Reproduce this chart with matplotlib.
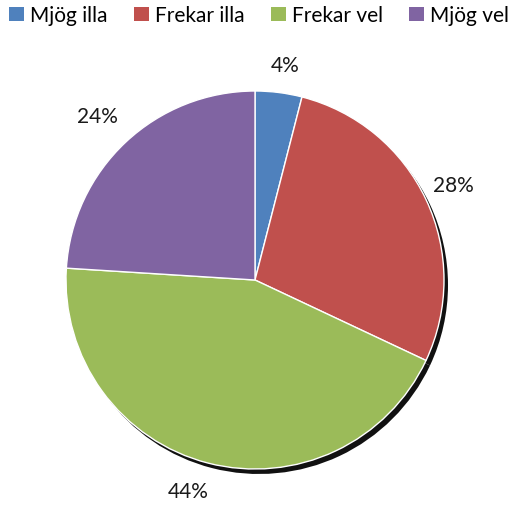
import matplotlib
matplotlib.use('Agg')
import matplotlib.pyplot as plt

labels = ['Mjög illa', 'Frekar illa', 'Frekar vel', 'Mjög vel']
values = [4, 28, 44, 24]
colors = ['#4F81BD', '#C0504D', '#9BBB59', '#8064A2']
# label anchor spots (pixels, y up)
label_pos = [(285, 440), (453, 320), (188, 14), (97, 389)]

plt.rcParams['font.family'] = ['Lato', 'DejaVu Sans']

fig = plt.figure(figsize=(5.08, 5.06), dpi=100, facecolor='white')
ax = fig.add_axes([0, 0, 1, 1])
ax.set_xlim(0, 508); ax.set_ylim(0, 506)
ax.set_aspect('equal'); ax.axis('off')

cx, cy, r = 255, 225, 189
# drop shadow: same pie, black, offset down-right
ax.pie(values, colors=['#111111'] * 4, startangle=90, counterclock=False,
       center=(cx + 4, cy - 5), radius=r, frame=True,
       wedgeprops=dict(linewidth=0))
wedges, _, autotexts = ax.pie(
    values, colors=colors, startangle=90, counterclock=False,
    center=(cx, cy), radius=r, frame=True,
    autopct='%1.0f%%', pctdistance=1.17,
    wedgeprops=dict(edgecolor='white', linewidth=1.0),
    textprops=dict(fontsize=15, color='#1a1a1a'))
for t, p in zip(autotexts, label_pos):
    t.set_position(p)
ax.set_xlim(0, 508); ax.set_ylim(0, 506); ax.axis('off')

leg = ax.legend(wedges, labels, loc='upper center', bbox_to_anchor=(0.51, 1.0),
                ncol=4, frameon=False, fontsize=15, handlelength=0.72,
                handleheight=0.72, handletextpad=0.3, columnspacing=1.25,
                borderaxespad=0.1, borderpad=0.2)
for h in leg.legend_handles:
    h.set_edgecolor('none')

fig.savefig('out.png', dpi=100, facecolor=fig.get_facecolor())
